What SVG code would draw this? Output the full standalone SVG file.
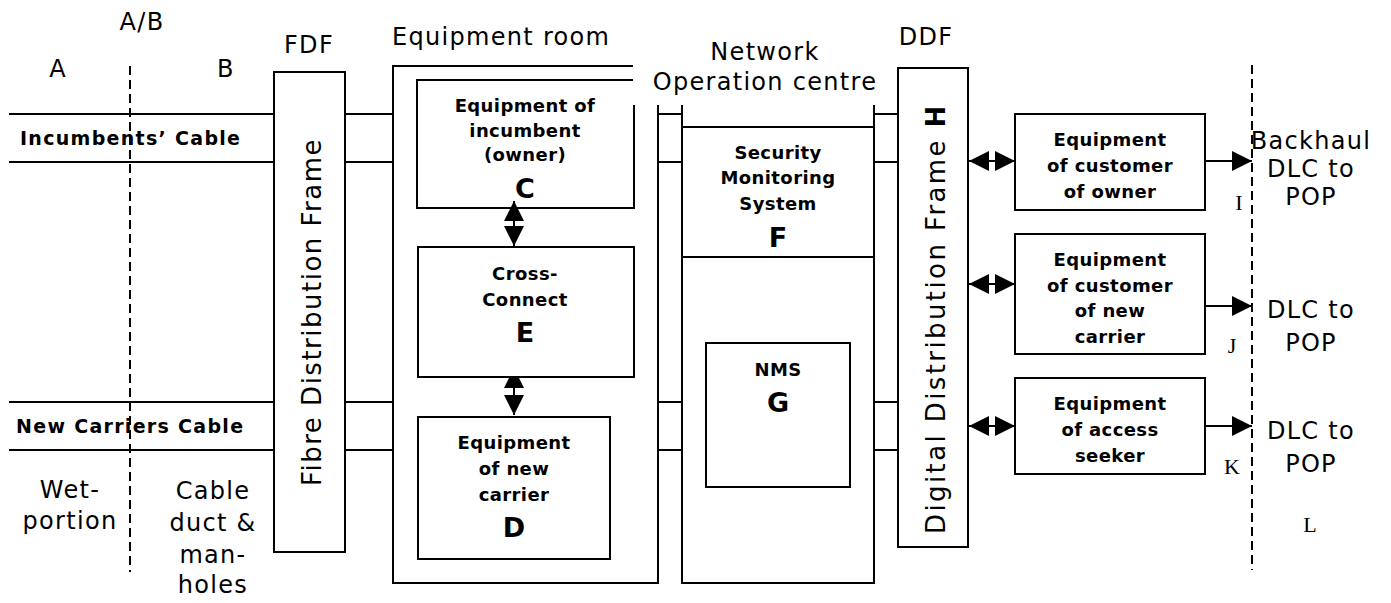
<svg xmlns="http://www.w3.org/2000/svg" width="1391" height="603" viewBox="0 0 1391 603">
<style>
.ln{stroke:#000;stroke-width:2;fill:none}
.box{stroke:#000;stroke-width:2;fill:#fff}
.dash{stroke:#000;stroke-width:2;fill:none;stroke-dasharray:9,5}
.lbl{font-family:"DejaVu Sans",Verdana,sans-serif;font-size:24px;letter-spacing:1.3px;fill:#000}
.mid{text-anchor:middle}
.b{font-family:"DejaVu Sans",Verdana,sans-serif;font-weight:bold;font-size:18px;letter-spacing:0.4px;text-anchor:middle;fill:#000}
.cab{font-family:"DejaVu Sans",Verdana,sans-serif;font-weight:bold;font-size:19px;letter-spacing:1.3px;fill:#000}
.big{font-family:"DejaVu Sans",Verdana,sans-serif;font-weight:bold;font-size:27px;text-anchor:middle;fill:#000}
.rot{font-family:"DejaVu Sans",Verdana,sans-serif;font-size:26px;letter-spacing:1.5px;fill:#000}
.rot2{font-family:"DejaVu Sans",Verdana,sans-serif;font-size:26px;letter-spacing:2.4px;fill:#000}
.ser{font-family:"Liberation Serif","Times New Roman",serif;font-size:22px;text-anchor:middle;fill:#000}
.arr{stroke:#000;stroke-width:2;fill:none;marker-start:url(#ah);marker-end:url(#ah)}
.arr1{stroke:#000;stroke-width:2;fill:none;marker-end:url(#ah)}
</style>
<defs>
<marker id="ah" viewBox="0 0 20 20" refX="20" refY="10" markerWidth="20" markerHeight="20" markerUnits="userSpaceOnUse" orient="auto-start-reverse"><path d="M0,0 L20,10 L0,20 z" fill="#000"/></marker>
</defs>
<rect width="1391" height="603" fill="#fff"/>

<g id="zones">
<line class="dash" x1="130" y1="66" x2="130" y2="572"/>
<line class="dash" x1="1252" y1="65" x2="1252" y2="570"/>
<text class="lbl mid" x="142" y="30">A/B</text>
<text class="lbl mid" x="58" y="77">A</text>
<text class="lbl mid" x="226" y="77">B</text>
<text class="lbl mid" x="70" y="498">Wet-</text>
<text class="lbl mid" x="70" y="529">portion</text>
<text class="lbl mid" x="213" y="499">Cable</text>
<text class="lbl mid" x="213" y="531">duct &amp;</text>
<text class="lbl mid" x="213" y="563">man-</text>
<text class="lbl mid" x="213" y="593">holes</text>
</g>

<g id="connectors">
<path class="ln" d="M9,114 H274 M345,114 H393 M658,114 H682 M874,114 H898"/>
<path class="ln" d="M9,162 H274 M345,162 H393 M658,162 H682 M874,162 H898"/>
<path class="ln" d="M9,402 H274 M345,402 H393 M658,402 H682 M874,402 H898"/>
<path class="ln" d="M9,450 H274 M345,450 H393 M658,450 H682 M874,450 H898"/>
<line class="arr" x1="514" y1="201" x2="514" y2="246"/>
<line class="arr" x1="514" y1="368" x2="514" y2="415"/>
<line class="arr" x1="969" y1="161" x2="1015" y2="161"/>
<line class="arr" x1="969" y1="284" x2="1015" y2="284"/>
<line class="arr" x1="969" y1="426" x2="1015" y2="426"/>
<line class="arr1" x1="1205" y1="161" x2="1252" y2="161"/>
<line class="arr1" x1="1205" y1="306" x2="1252" y2="306"/>
<line class="arr1" x1="1205" y1="426" x2="1252" y2="426"/>
</g>

<g id="cable-labels">
<text class="cab" x="20" y="145">Incumbents’ Cable</text>
<text class="cab" x="16" y="433">New Carriers Cable</text>
</g>

<g id="fdf">
<rect class="box" x="274" y="72" width="71" height="480"/>
<text class="lbl mid" x="309" y="53">FDF</text>
<text class="rot" text-anchor="middle" transform="translate(321,312) rotate(-90)">Fibre Distribution Frame</text>
</g>

<g id="equipment-room">
<path class="ln" d="M633,66 H393 V583 H658 V105"/>
<text class="lbl" x="392" y="45">Equipment room</text>
</g>

<g id="node-c">
<path class="ln" d="M633,80 H417 V208 H634 V105"/>
<text class="b" x="525" y="112">Equipment of</text>
<text class="b" x="525" y="137">incumbent</text>
<text class="b" x="525" y="161">(owner)</text>
<text class="big" x="525" y="198">C</text>
</g>

<g id="node-e">
<rect class="box" x="418" y="247" width="216" height="130"/>
<text class="b" x="525" y="280">Cross-</text>
<text class="b" x="525" y="306">Connect</text>
<text class="big" x="525" y="342">E</text>
</g>

<g id="node-d">
<rect class="box" x="418" y="417" width="192" height="142"/>
<text class="b" x="514" y="449">Equipment</text>
<text class="b" x="514" y="475">of new</text>
<text class="b" x="514" y="501">carrier</text>
<text class="big" x="514" y="537">D</text>
</g>

<g id="noc">
<path class="ln" d="M682,105 V583 H874 V105"/>
<text class="lbl mid" x="765" y="60">Network</text>
<text class="lbl mid" x="765" y="90">Operation centre</text>
</g>

<g id="node-f">
<path class="ln" d="M682,127 H874 M682,257 H874"/>
<text class="b" x="778" y="159">Security</text>
<text class="b" x="778" y="184">Monitoring</text>
<text class="b" x="778" y="210">System</text>
<text class="big" x="778" y="247">F</text>
</g>

<g id="node-g">
<rect class="box" x="706" y="343" width="144" height="144"/>
<text class="b" x="778" y="376">NMS</text>
<text class="big" x="778" y="412">G</text>
</g>

<g id="ddf">
<rect class="box" x="898" y="68" width="70" height="479"/>
<text class="lbl mid" x="926" y="45">DDF</text>
<text class="rot2" transform="translate(945,534) rotate(-90)">Digital Distribution Frame <tspan font-weight="bold">H</tspan></text>
</g>

<g id="node-i">
<rect class="box" x="1015" y="114" width="190" height="96"/>
<text class="b" x="1110" y="146">Equipment</text>
<text class="b" x="1110" y="172">of customer</text>
<text class="b" x="1110" y="198">of owner</text>
<text class="ser" x="1239" y="210">I</text>
<text class="lbl mid" x="1311" y="149">Backhaul</text>
<text class="lbl mid" x="1311" y="177">DLC to</text>
<text class="lbl mid" x="1311" y="205">POP</text>
</g>

<g id="node-j">
<rect class="box" x="1015" y="234" width="190" height="120"/>
<text class="b" x="1110" y="266">Equipment</text>
<text class="b" x="1110" y="292">of customer</text>
<text class="b" x="1110" y="317">of new</text>
<text class="b" x="1110" y="343">carrier</text>
<text class="ser" x="1232" y="353">J</text>
<text class="lbl mid" x="1311" y="318">DLC to</text>
<text class="lbl mid" x="1311" y="351">POP</text>
</g>

<g id="node-k">
<rect class="box" x="1015" y="378" width="190" height="96"/>
<text class="b" x="1110" y="410">Equipment</text>
<text class="b" x="1110" y="436">of access</text>
<text class="b" x="1110" y="462">seeker</text>
<text class="ser" x="1232" y="474">K</text>
<text class="lbl mid" x="1311" y="439">DLC to</text>
<text class="lbl mid" x="1311" y="472">POP</text>
</g>

<g id="label-l">
<text class="ser" x="1310" y="532">L</text>
</g>
</svg>
